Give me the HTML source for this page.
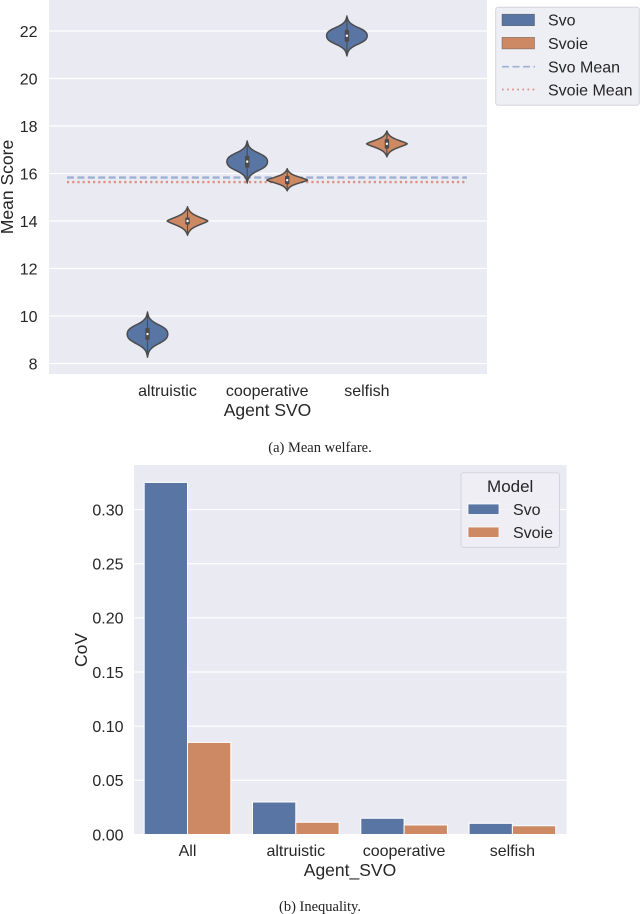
<!DOCTYPE html>
<html>
<head>
<meta charset="utf-8">
<title>Mean welfare and inequality</title>
<style>
html,body{margin:0;padding:0;background:#fff;width:640px;height:914px;overflow:hidden}
svg{display:block}
text{font-family:"Liberation Sans",Arial,sans-serif;fill:#262626}
.cap{font-family:"Liberation Serif","Times New Roman",serif;font-size:14.5px;fill:#222}
</style>
</head>
<body>
<svg id="fig" xmlns="http://www.w3.org/2000/svg" width="640" height="914" viewBox="0 0 640 914">
  <g id="chartA"></g>
  <g id="legendA">
    <rect x="495.7" y="7.2" width="143.6" height="98" rx="2.5" fill="#eeeef5" stroke="#d4d4dc" stroke-width="1"/>
    <rect x="502" y="14.2" width="32.5" height="11.5" fill="#5875a4" stroke="#4c4c4c" stroke-width="0.6" stroke-opacity="0.7"/>
    <text x="548" y="25.5" font-size="16">Svo</text>
    <rect x="502" y="37.4" width="32.5" height="11.5" fill="#cc8963" stroke="#4c4c4c" stroke-width="0.6" stroke-opacity="0.7"/>
    <text x="548" y="49" font-size="16">Svoie</text>
    <line x1="502" y1="66.7" x2="535" y2="66.7" stroke="#9fb1d3" stroke-width="1.7" stroke-dasharray="7 3.5"/>
    <text x="548" y="72.5" font-size="16">Svo Mean</text>
    <line x1="502" y1="89.5" x2="535" y2="89.5" stroke="#dd8f82" stroke-width="1.7" stroke-dasharray="1.7 3.4"/>
    <text x="548" y="95.5" font-size="16">Svoie Mean</text>
  </g>
  <text class="cap" x="320" y="452" text-anchor="middle">(a) Mean welfare.</text>

  <g id="chartB"></g>
  <g id="legendB">
    <rect x="461" y="472.7" width="98.5" height="74.7" rx="2.5" fill="#eeeef5" fill-opacity="0.85" stroke="#d4d4dc" stroke-width="1"/>
    <text x="510.2" y="492" font-size="17" text-anchor="middle">Model</text>
    <rect x="468" y="504" width="31" height="10.5" fill="#5875a4" stroke="#fff" stroke-width="0.8"/>
    <text x="513" y="515" font-size="16">Svo</text>
    <rect x="468" y="527" width="31" height="10.5" fill="#cc8963" stroke="#fff" stroke-width="0.8"/>
    <text x="513" y="538" font-size="16">Svoie</text>
  </g>
  <text class="cap" x="320" y="911" text-anchor="middle">(b) Inequality.</text>
</svg>
<script>
// ---- Chart A data (violin summaries) ----
const violinCategories = ["altruistic", "cooperative", "selfish"];
const violinTicks = [8, 10, 12, 14, 16, 18, 20, 22];
const svoMedian = [9.24, 16.5, 21.8];
const svoMin = [8.27, 15.6, 20.95];
const svoMax = [10.17, 17.37, 22.63];
const svoQ1 = [9.0, 16.25, 21.55];
const svoQ3 = [9.5, 16.75, 22.05];
const svoieMedian = [14.0, 15.72, 17.25];
const svoieMin = [13.4, 15.27, 16.7];
const svoieMax = [14.6, 16.2, 17.79];
const svoieQ1 = [13.85, 15.55, 17.05];
const svoieQ3 = [14.15, 15.9, 17.45];
const svoMean = 15.83;
const svoieMean = 15.64;
// relative density, from the peak out to the tip
const svoDensity = [1, 0.97, 0.86, 0.64, 0.38, 0.19, 0.08, 0.03, 0];
const svoieDensity = [1, 0.84, 0.62, 0.42, 0.26, 0.15, 0.08, 0.03, 0];

// ---- Chart B data ----
const barCategories = ["All", "altruistic", "cooperative", "selfish"];
const barTicks = [0, 0.05, 0.10, 0.15, 0.20, 0.25, 0.30];
const barTickLabels = ["0.00", "0.05", "0.10", "0.15", "0.20", "0.25", "0.30"];
const svoCov = [0.325, 0.030, 0.015, 0.0103];
const svoieCov = [0.085, 0.0113, 0.0088, 0.0081];

const NS = "http://www.w3.org/2000/svg";
const BLUE = "#5875a4", ORANGE = "#cc8963", DARK = "#4c4c4c";

function mk(parent, tag, attrs, txt) {
  const el = document.createElementNS(NS, tag);
  for (const k in attrs) el.setAttribute(k, attrs[k]);
  if (txt !== undefined) el.textContent = txt;
  parent.appendChild(el);
  return el;
}

// ---- Chart A ----
const gA = document.getElementById("chartA");
const yA = v => 363.5 - (v - 8) * 23.75;
const xA = i => 167.5 + 99.7 * i;
const violinOffset = 20, violinHalf = 20.3;

const bgA = mk(gA, "rect", {x: 49, y: 0, width: 438, height: 374, fill: "#eaeaf2"});



violinTicks.forEach(t => {
  const g = mk(gA, "line", {x1: 49, x2: 487, y1: yA(t), y2: yA(t), stroke: "#fff", "stroke-width": 1.3});
  
  
  const l = mk(gA, "text", {x: 37.5, y: yA(t) + 5.8, "font-size": 16, "text-anchor": "end"}, String(t));
  
  
});

function violinPath(cx, med, lo, hi, density) {
  const n = density.length - 1;
  const right = [], left = [];
  const fine = 4;
  const pts = [];
  // upper half (peak -> top tip), then lower half
  for (let i = n * fine; i >= 0; i--) {
    const t = i / (n * fine);
    pts.push([yA(med + (hi - med) * t), sample(density, t)]);
  }
  for (let i = 1; i <= n * fine; i++) {
    const t = i / (n * fine);
    pts.push([yA(med - (med - lo) * t), sample(density, t)]);
  }
  pts.forEach(p => {
    right.push((cx + p[1] * violinHalf).toFixed(2) + "," + p[0].toFixed(2));
    left.unshift((cx - p[1] * violinHalf).toFixed(2) + "," + p[0].toFixed(2));
  });
  return "M" + right.join("L") + "L" + left.join("L") + "Z";
}
function sample(arr, t) {
  const p = t * (arr.length - 1), i = Math.min(Math.floor(p), arr.length - 2), f = p - i;
  // Catmull-Rom smoothing between density samples
  const a = arr[Math.max(i - 1, 0)], b = arr[i], c = arr[i + 1], d = arr[Math.min(i + 2, arr.length - 1)];
  const v = 0.5 * (2 * b + (c - a) * f + (2 * a - 5 * b + 4 * c - d) * f * f + (3 * b - a - 3 * c + d) * f * f * f);
  return Math.max(0, Math.min(1, v));
}

function drawViolin(cx, i, color, med, lo, hi, q1, q3, density, name) {
  const g = mk(gA, "g", {});
  
  
  const body = mk(g, "path", {d: violinPath(cx, med[i], lo[i], hi[i], density), fill: color, stroke: DARK, "stroke-width": 1.5, "stroke-linejoin": "round"});
  
  
  const whisk = mk(g, "line", {x1: cx, x2: cx, y1: yA(hi[i]), y2: yA(lo[i]), stroke: DARK, "stroke-width": 1.1});
  
  
  const box = mk(g, "rect", {x: cx - 2.2, width: 4.4, y: yA(q3[i]), height: yA(q1[i]) - yA(q3[i]), rx: 1, fill: DARK});
  
  
  const dot = mk(g, "circle", {cx: cx, cy: yA(med[i]), r: 1.2, fill: "#fff"});
  
  
}

const meanSvo = mk(gA, "line", {x1: 67, x2: 467, y1: yA(svoMean), y2: yA(svoMean), stroke: "#9fb1d3", "stroke-width": 2.3, "stroke-dasharray": "7 3.4"});


const meanSvoie = mk(gA, "line", {x1: 67, x2: 467, y1: yA(svoieMean), y2: yA(svoieMean), stroke: "#dd8f82", "stroke-width": 2.3, "stroke-dasharray": "2.2 3"});



violinCategories.forEach((c, i) => {
  drawViolin(xA(i) - violinOffset, i, BLUE, svoMedian, svoMin, svoMax, svoQ1, svoQ3, svoDensity, "violin-svo-" + c);
  drawViolin(xA(i) + violinOffset, i, ORANGE, svoieMedian, svoieMin, svoieMax, svoieQ1, svoieQ3, svoieDensity, "violin-svoie-" + c);
  const l = mk(gA, "text", {x: xA(i), y: 396, "font-size": 16, "text-anchor": "middle"}, c);
  
  
});

const xTitleA = mk(gA, "text", {x: 267.5, y: 416, "font-size": 17.5, "text-anchor": "middle"}, "Agent SVO");


const yTitleA = mk(gA, "text", {transform: "translate(13 187) rotate(-90)", "font-size": 17.5, "text-anchor": "middle"}, "Mean Score");



// ---- Chart B ----
const gB = document.getElementById("chartB");
const yB = v => 834.5 - v * 1083.3;
const xB = i => 187.5 + 108.3 * i;
const barWidth = 43.3;

const bgB = mk(gB, "rect", {x: 134, y: 465, width: 432.7, height: 369.5, fill: "#eaeaf2"});



barTicks.forEach((t, i) => {
  const g = mk(gB, "line", {x1: 134, x2: 566.7, y1: yB(t), y2: yB(t), stroke: "#fff", "stroke-width": 1.2});
  
  
  const l = mk(gB, "text", {x: 123.5, y: yB(t) + 5.8, "font-size": 16, "text-anchor": "end"}, barTickLabels[i]);
  
  
});

barCategories.forEach((c, i) => {
  const a = mk(gB, "rect", {x: xB(i) - barWidth, y: yB(svoCov[i]), width: barWidth, height: yB(0) - yB(svoCov[i]), fill: BLUE, stroke: "#fff", "stroke-width": 1});
  
  
  const b = mk(gB, "rect", {x: xB(i), y: yB(svoieCov[i]), width: barWidth, height: yB(0) - yB(svoieCov[i]), fill: ORANGE, stroke: "#fff", "stroke-width": 1});
  
  
  const l = mk(gB, "text", {x: xB(i), y: 856, "font-size": 16, "text-anchor": "middle"}, c);
  
  
});

const xTitleB = mk(gB, "text", {x: 350, y: 876, "font-size": 17.5, "text-anchor": "middle"}, "Agent_SVO");


const yTitleB = mk(gB, "text", {transform: "translate(87 650) rotate(-90)", "font-size": 17.5, "text-anchor": "middle"}, "CoV");


</script>
</body>
</html>
